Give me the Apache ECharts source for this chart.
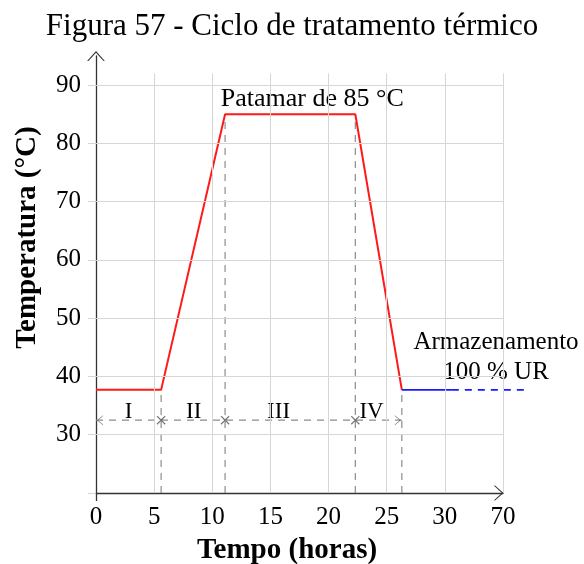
<!DOCTYPE html>
<html><head><meta charset="utf-8">
<script src="https://cdn.jsdelivr.net/npm/echarts@6/dist/echarts.min.js"></script>
<style>html,body{margin:0;padding:0;background:#fff}#chart{width:584px;height:564px}</style>
</head><body><div id="chart"></div>
<script>
// Ciclo de tratamento térmico: tempo (h) x temperatura (°C)
const titulo = 'Figura 57 - Ciclo de tratamento térmico';
const tempoCiclo = [0, 5.6, 11.1, 22.3, 26.3];
const tempCiclo = [37.7, 37.7, 85, 85, 37.7];
const tempoArmazenamento = [26.3, 30.6];
const tempoArmazenamentoTracejado = [30.6, 37.1];
const tempArmazenamento = 37.7;
const fases = ['I', 'II', 'III', 'IV'];
const tempoRotuloFase = [2.8, 8.4, 15.7, 23.7];
const tempRotuloFase = 33.9;
const tempCotaFase = 32.5;
const marcasTempo = [0, 5, 10, 15, 20, 25, 30, 35];
const rotulosTempo = ['0', '5', '10', '15', '20', '25', '30', '70'];
const marcasTemp = [20, 30, 40, 50, 60, 70, 80, 90];
const rotulosTemp = [30, 40, 50, 60, 70, 80, 90];
const textoPatamar = 'Patamar de 85 °C';
const posPatamar = [18.6, 87.6];
const textoArmazenamento = 'Armazenamento\n100 % UR';
const posArmazenamento = [34.4, 43.2];

const serif = "'Liberation Serif', 'Times New Roman', serif";
const corGrade = '#d6d6d6';
const corEixo = '#333333';
const corCota = '#8c8c8c';
const setaCima = 'path://M0,9 L8,0 L16,9 L14.8,9 L8,1.6 L1.2,9 Z';
const cruz = 'path://M0,1 L1,0 L5,4 L9,0 L10,1 L6,5 L10,9 L9,10 L5,6 L1,10 L0,9 L4,5 Z';

const xMin = marcasTempo[0], xMax = marcasTempo[marcasTempo.length - 1];
const yMin = marcasTemp[0], yTopoGrade = 92, yMax = 95;

// linhas de grade
const grade = [];
marcasTemp.slice(1).forEach(v => grade.push([{ coord: [xMin, v] }, { coord: [xMax, v] }]));
marcasTempo.slice(1).forEach(v => grade.push([{ coord: [v, yMin] }, { coord: [v, yTopoGrade] }]));

// linhas verticais tracejadas nas mudanças de fase
const verticais = [];
for (let i = 1; i < tempoCiclo.length; i++) {
  verticais.push({
    type: 'line', silent: true, symbol: 'none', z: 3,
    data: [[tempoCiclo[i], yMin], [tempoCiclo[i], tempCiclo[i]]],
    lineStyle: { color: corCota, width: 1.2, type: [7, 6] }
  });
}

// marcas da cota das fases
const marcasCota = tempoCiclo.map((t, i) => {
  let sym = cruz, rot = 0, off = [0, 0], size = [9, 9];
  if (i === 0) { sym = setaCima; rot = 90; off = [4, 0]; size = [10, 6]; }
  if (i === tempoCiclo.length - 1) { sym = setaCima; rot = -90; off = [-4, 0]; size = [10, 6]; }
  return { value: [t, tempCotaFase], symbol: sym, symbolRotate: rot, symbolOffset: off, symbolSize: size };
});

const rotulo = (size, extra) => Object.assign({
  show: true, position: 'inside', formatter: p => p.name,
  fontFamily: serif, fontSize: size, color: '#000', opacity: 1, textBorderWidth: 0
}, extra || {});

const chart = echarts.init(document.getElementById('chart'));
chart.setOption({
  animation: false,
  backgroundColor: '#fff',
  title: {
    text: titulo, left: 'center', top: 6,
    textStyle: { fontFamily: serif, fontSize: 31, fontWeight: 'normal', color: '#000' }
  },
  grid: { left: 96, right: 81, top: 56, bottom: 71, outerBoundsMode: 'none', containLabel: false },
  xAxis: {
    type: 'value', min: xMin, max: xMax, interval: 5,
    name: 'Tempo (horas)', nameLocation: 'middle', nameGap: 43,
    nameTextStyle: { fontFamily: serif, fontSize: 29, fontWeight: 'bold', color: '#000', padding: [0, 25, 0, 0] },
    axisLine: { show: true, lineStyle: { color: corEixo, width: 1.3 }, symbol: ['none', setaCima], symbolSize: [19, 9], symbolOffset: [0, -4] },
    axisTick: { show: true, customValues: [0], length: 8, lineStyle: { color: corEixo, width: 1.3 } },
    axisLabel: {
      customValues: marcasTempo, margin: 12,
      formatter: v => rotulosTempo[marcasTempo.indexOf(v)],
      fontFamily: serif, fontSize: 25, color: '#000'
    },
    splitLine: { show: false }
  },
  yAxis: {
    type: 'value', min: yMin, max: yMax, interval: 10,
    name: 'Temperatura (°C)', nameLocation: 'middle', nameGap: 54,
    nameTextStyle: { fontFamily: serif, fontSize: 29, fontWeight: 'bold', color: '#000', padding: [0, 0, 0, 74] },
    axisLine: { show: true, lineStyle: { color: corEixo, width: 1.3 }, symbol: ['none', setaCima], symbolSize: [18, 10], symbolOffset: [0, 0] },
    axisTick: { show: true, customValues: marcasTemp, length: 8, lineStyle: { color: corGrade, width: 1 } },
    axisLabel: {
      customValues: rotulosTemp, margin: 15,
      fontFamily: serif, fontSize: 25, color: '#000'
    },
    splitLine: { show: false }
  },
  series: [
    {
      type: 'line', silent: true, data: [[xMin, yMin]], symbol: 'none', lineStyle: { width: 0 }, z: 1,
      markLine: { silent: true, symbol: 'none', label: { show: false }, lineStyle: { color: corGrade, width: 1, type: 'solid' }, data: grade }
    },
    ...verticais,
    {
      type: 'line', silent: true, symbol: 'none', z: 3,
      data: tempoCiclo.map((t, i) => [t, tempCiclo[i]]),
      lineStyle: { color: '#ff1a1a', width: 2 }
    },
    {
      type: 'line', silent: true, symbol: 'none', z: 3,
      data: tempoArmazenamento.map(t => [t, tempArmazenamento]),
      lineStyle: { color: '#1a1aff', width: 1.6 }
    },
    {
      // trecho tracejado do armazenamento, continua além do fim do eixo
      type: 'custom', silent: true, z: 3, clip: false,
      data: [[tempoArmazenamentoTracejado[0], tempoArmazenamentoTracejado[1], tempArmazenamento]],
      encode: { x: [0, 1], y: 2 },
      renderItem: (params, api) => {
        const a = api.coord([api.value(0), api.value(2)]);
        const b = api.coord([api.value(1), api.value(2)]);
        return {
          type: 'line', shape: { x1: a[0], y1: a[1], x2: b[0], y2: b[1] },
          style: { stroke: '#1a1aff', lineWidth: 1.6, lineDash: [7, 6], fill: null }
        };
      }
    },
    {
      type: 'line', silent: true, symbol: 'none', z: 3,
      data: [[tempoCiclo[0], tempCotaFase], [tempoCiclo[tempoCiclo.length - 1], tempCotaFase]],
      lineStyle: { color: corCota, width: 1.2, type: [7, 6] }
    },
    {
      type: 'scatter', silent: true, z: 4, data: marcasCota,
      itemStyle: { color: '#555' }
    },
    {
      type: 'scatter', silent: true, z: 4, symbolSize: 0,
      data: fases.map((f, i) => ({ value: [tempoRotuloFase[i], tempRotuloFase], name: f })),
      label: rotulo(23)
    },
    {
      type: 'scatter', silent: true, z: 4, symbolSize: 0, clip: false,
      data: [{ value: posPatamar, name: textoPatamar }],
      label: rotulo(26)
    },
    {
      type: 'scatter', silent: true, z: 4, symbolSize: 0, clip: false,
      data: [{ value: posArmazenamento, name: textoArmazenamento }],
      label: rotulo(25, { lineHeight: 30, align: 'center' })
    }
  ]
});
</script>
</body></html>
